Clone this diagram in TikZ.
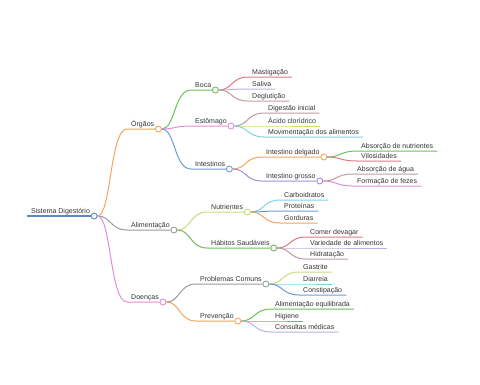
\documentclass[tikz,border=0pt]{standalone}
\usepackage{fontspec}
\setmainfont{Liberation Sans}
\usepackage{xcolor}

\definecolor{cBlue}{HTML}{5A8AC6}
\definecolor{cBlueL}{HTML}{6E9BD6}
\definecolor{cOrange}{HTML}{F6A55B}
\definecolor{cGray}{HTML}{9A9A9A}
\definecolor{cPink}{HTML}{E38BDC}
\definecolor{cGreen}{HTML}{6DBE58}
\definecolor{cRed}{HTML}{E07A80}
\definecolor{cLav}{HTML}{BEB0E2}
\definecolor{cRose}{HTML}{C09C9C}
\definecolor{cOlive}{HTML}{D4DA6C}
\definecolor{cCyan}{HTML}{7DD3E8}
\definecolor{cLime}{HTML}{C8DC78}
\definecolor{cPurple}{HTML}{A08FDB}
\definecolor{cText}{HTML}{333333}

\begin{document}
\begin{tikzpicture}[x=1pt, y=-1pt,
    lbl/.style={anchor=south west, inner xsep=4pt, inner ysep=0pt, text depth=2.2pt,
        text=cText, font=\fontsize{7pt}{8pt}\selectfont},
    dot/.style={draw=#1, fill=white, circle, line width=0.9pt, minimum size=6pt, inner sep=0pt},
    link/.style={line width=1pt}]
        \useasboundingbox (0,0) rectangle (480,384);

        % levels 0 and 1
        \node[lbl] (root)     at (27,216)  {Sistema Digestório};
        \node[lbl] (orgaos)   at (127,129) {Órgãos};
        \node[lbl] (aliment)  at (127,230) {Alimentação};
        \node[lbl] (doencas)  at (127,302) {Doenças};

        % level 2
        \node[lbl] (boca)     at (191,90)  {Boca};
        \node[lbl] (estomago) at (191,126) {Estômago};
        \node[lbl] (intest)   at (191,169) {Intestinos};
        \node[lbl] (nutri)    at (207,212) {Nutrientes};
        \node[lbl] (habitos)  at (207,248) {Hábitos Saudáveis};
        \node[lbl] (problemas) at (196,284) {Problemas Comuns};
        \node[lbl] (prev)     at (196,321) {Prevenção};

        % level 3
        \node[lbl] (mastig)   at (248,77)  {Mastigação};
        \node[lbl] (saliva)   at (248,89)  {Saliva};
        \node[lbl] (deglut)   at (248,101) {Deglutição};
        \node[lbl] (digest)   at (264,113) {Digestão inicial};
        \node[lbl] (acido)    at (264,126) {Ácido clorídrico};
        \node[lbl] (movim)    at (264,137) {Movimentação dos alimentos};
        \node[lbl] (delgado)  at (262,157) {Intestino delgado};
        \node[lbl] (grosso)   at (262,181) {Intestino grosso};
        \node[lbl] (carbo)    at (280,200) {Carboidratos};
        \node[lbl] (prot)     at (280,211) {Proteínas};
        \node[lbl] (gord)     at (280,223) {Gorduras};
        \node[lbl] (comer)    at (306,237) {Comer devagar};
        \node[lbl] (varied)   at (306,248) {Variedade de alimentos};
        \node[lbl] (hidrat)   at (306,259) {Hidratação};
        \node[lbl] (gastr)    at (299,272) {Gastrite};
        \node[lbl] (diarr)    at (299,284) {Diarreia};
        \node[lbl] (constip)  at (299,295) {Constipação};
        \node[lbl] (alimeq)   at (271,309) {Alimentação equilibrada};
        \node[lbl] (higiene)  at (271,321) {Higiene};
        \node[lbl] (consult)  at (271,332) {Consultas médicas};

        % level 4
        \node[lbl] (absnut)   at (357,151) {Absorção de nutrientes};
        \node[lbl] (viloss)   at (357,161) {Vilosidades};
        \node[lbl] (absagua)  at (353,174) {Absorção de água};
        \node[lbl] (fezes)    at (353,186) {Formação de fezes};

        % branching points
        \node[dot=cBlue]    (root-c)     at (root.south east)     {};
        \node[dot=cOrange]  (orgaos-c)   at (orgaos.south east)   {};
        \node[dot=cGray]    (aliment-c)  at (aliment.south east)  {};
        \node[dot=cPink]    (doencas-c)  at (doencas.south east)  {};
        \node[dot=cGreen]   (boca-c)     at (boca.south east)     {};
        \node[dot=cPink]    (estomago-c) at (estomago.south east) {};
        \node[dot=cBlueL]   (intest-c)   at (intest.south east)   {};
        \node[dot=cLime]    (nutri-c)    at (nutri.south east)    {};
        \node[dot=cGreen]   (habitos-c)  at (habitos.south east)  {};
        \node[dot=cGray]    (problemas-c) at (problemas.south east) {};
        \node[dot=cOrange]  (prev-c)     at (prev.south east)     {};
        \node[dot=cOrange]  (delgado-c)  at (delgado.south east)  {};
        \node[dot=cPurple]  (grosso-c)   at (grosso.south east)   {};

        % root
        \draw[cBlue, line width=2pt] (root.south west) -- (root-c);

        % connectors: parent point to child, then along under the child's text
        \foreach \p/\c/\col in {root/orgaos/cOrange, root/aliment/cGray, root/doencas/cPink,
                orgaos/boca/cGreen, orgaos/estomago/cPink, orgaos/intest/cBlueL,
                aliment/nutri/cLime, aliment/habitos/cGreen,
                doencas/problemas/cGray, doencas/prev/cOrange,
                intest/delgado/cOrange, intest/grosso/cPurple}
            \draw[link, \col] (\p-c) .. controls +(17,0) and +(-17,0) .. (\c.south west) -- (\c-c);

        \foreach \p/\c/\col in {boca/mastig/cRed, boca/saliva/cLav, boca/deglut/cRose,
                estomago/digest/cRose, estomago/acido/cOlive, estomago/movim/cCyan,
                delgado/absnut/cGreen, delgado/viloss/cRed,
                grosso/absagua/cRose, grosso/fezes/cPink,
                nutri/carbo/cCyan, nutri/prot/cBlueL, nutri/gord/cOrange,
                habitos/comer/cRed, habitos/varied/cLav, habitos/hidrat/cRose,
                problemas/gastr/cLime, problemas/diarr/cCyan, problemas/constip/cBlueL,
                prev/alimeq/cGreen, prev/higiene/cRed, prev/consult/cLav}
            \draw[link, \col] (\p-c) .. controls +(17,0) and +(-17,0) .. (\c.south west) -- (\c.south east);
    \end{tikzpicture}
\end{document}
